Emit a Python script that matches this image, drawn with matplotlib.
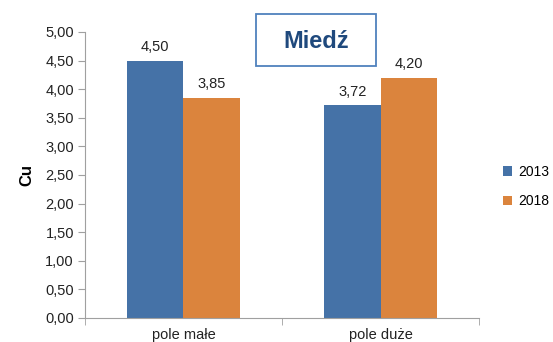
import matplotlib
matplotlib.use('Agg')
import matplotlib.pyplot as plt
import numpy as np
from matplotlib.patches import Rectangle
from matplotlib.ticker import FixedLocator, FuncFormatter

categories = ['pole małe', 'pole duże']
series = ['2013', '2018']
values_2013 = [4.50, 3.72]
values_2018 = [3.85, 4.20]
colors = ['#4572A7', '#DB843D']

plt.rcParams['font.family'] = ['Liberation Sans', 'DejaVu Sans']
fs = 10.5

fig = plt.figure(figsize=(5.53, 3.42), dpi=100)
ax = fig.add_axes([0.1537, 0.0702, 0.7125, 0.8363])

x = np.arange(len(categories))
w = 0.287
b1 = ax.bar(x - w / 2, values_2013, w, color=colors[0], label=series[0])
b2 = ax.bar(x + w / 2, values_2018, w, color=colors[1], label=series[1])

for bars, vals in ((b1, values_2013), (b2, values_2018)):
    for r, v in zip(bars, vals):
        ax.text(r.get_x() + r.get_width() / 2, v + 0.11, f"{v:.2f}".replace('.', ','),
                ha='center', va='bottom', fontsize=fs, color='#222222')

ax.set_xlim(-0.5, 1.5)
ax.set_ylim(0, 5)
ax.set_yticks(np.arange(0, 5.01, 0.5))
ax.yaxis.set_major_formatter(FuncFormatter(lambda v, p: f"{v:.2f}".replace('.', ',')))
ax.set_xticks(x)
ax.set_xticklabels(categories)
ax.xaxis.set_minor_locator(FixedLocator([-0.5, 0.5, 1.5]))
ax.tick_params(axis='x', which='major', length=0, pad=7, labelsize=fs, colors='#222222')
ax.tick_params(axis='x', which='minor', length=5, color='#A0A0A0', direction='out')
ax.tick_params(axis='y', length=5, color='#A0A0A0', labelsize=fs, labelcolor='#222222', pad=3)

for s in ('top', 'right'):
    ax.spines[s].set_visible(False)
for s in ('left', 'bottom'):
    ax.spines[s].set_color('#A0A0A0')
    ax.spines[s].set_linewidth(0.8)

ax.set_ylabel('Cu', fontsize=12, fontweight='bold', labelpad=8)

# title box
fig.patches.append(Rectangle((0.4629, 0.807), 0.217, 0.152, transform=fig.transFigure,
                             facecolor='white', edgecolor='#4F81BD', linewidth=1.3))
fig.text(0.5714, 0.880, 'Miedź', ha='center', va='center', fontsize=17,
         fontweight='bold', color='#1F497D')

fig.legend(loc='center left', bbox_to_anchor=(0.910, 0.455), frameon=False,
           borderpad=0, borderaxespad=0,
           fontsize=10, handlelength=0.65, handleheight=0.65, handletextpad=0.4, labelspacing=1.1)

fig.savefig('out.png', dpi=100)
